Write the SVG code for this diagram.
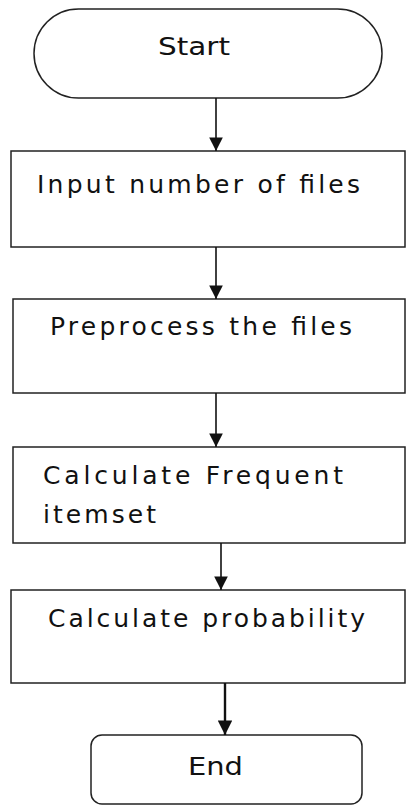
<svg xmlns="http://www.w3.org/2000/svg" width="406" height="806" viewBox="0 0 406 806">
<style>
.shape{fill:#fff;stroke:#222;stroke-width:1.5}
.lbl{font-family:"DejaVu Sans",sans-serif;font-size:25px;fill:#111}
.conn{stroke:#111;stroke-width:1.6;fill:none}
</style>
<defs>
<marker id="ah" viewBox="0 0 10 10" refX="10" refY="5" markerWidth="9.5" markerHeight="8.5" markerUnits="strokeWidth" orient="auto">
<path d="M0,0 L10,5 L0,10 Z" fill="#111"/>
</marker>
<marker id="ah2" viewBox="0 0 10 10" refX="10" refY="5" markerWidth="6.5" markerHeight="6" markerUnits="strokeWidth" orient="auto">
<path d="M0,0 L10,5 L0,10 Z" fill="#111"/>
</marker>
</defs>
<rect width="406" height="806" fill="#fff"/>
<g id="start">
<rect class="shape" x="34" y="9" width="348" height="89" rx="44.5" ry="44.5"/>
<text class="lbl" x="158" y="55" textLength="72" lengthAdjust="spacingAndGlyphs">Start</text>
</g>
<g id="input">
<rect class="shape" x="11" y="151" width="394" height="96"/>
<text class="lbl" x="37" y="193" textLength="323" lengthAdjust="spacing">Input number of files</text>
</g>
<g id="preprocess">
<rect class="shape" x="13" y="299" width="392" height="94"/>
<text class="lbl" x="50" y="335" textLength="302" lengthAdjust="spacing">Preprocess the files</text>
</g>
<g id="frequent">
<rect class="shape" x="13" y="447" width="392" height="96"/>
<text class="lbl" x="43" y="484" textLength="300" lengthAdjust="spacing">Calculate  Frequent</text>
<text class="lbl" x="43" y="523" textLength="113" lengthAdjust="spacing">itemset</text>
</g>
<g id="probability">
<rect class="shape" x="11" y="590" width="394" height="93"/>
<text class="lbl" x="48" y="627" textLength="317" lengthAdjust="spacing">Calculate probability</text>
</g>
<g id="end">
<rect class="shape" x="91" y="735" width="271" height="69" rx="11" ry="11"/>
<text class="lbl" x="188" y="775" textLength="55" lengthAdjust="spacingAndGlyphs">End</text>
</g>
<g id="connectors">
<line class="conn" x1="216" y1="98" x2="216" y2="151" marker-end="url(#ah)"/>
<line class="conn" x1="216" y1="247" x2="216" y2="299" marker-end="url(#ah)"/>
<line class="conn" x1="216" y1="393" x2="216" y2="447" marker-end="url(#ah)"/>
<line class="conn" x1="221" y1="543" x2="221" y2="590" marker-end="url(#ah)"/>
<line class="conn" x1="225" y1="683" x2="225" y2="735" marker-end="url(#ah2)" style="stroke-width:2.4"/>
</g>
</svg>
